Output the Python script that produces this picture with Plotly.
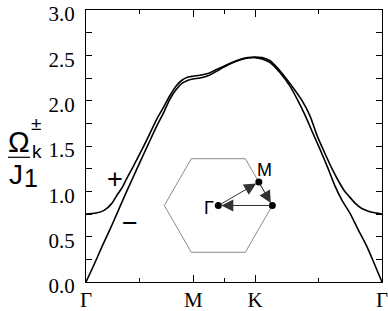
import plotly.graph_objects as go

# --- path coordinate (normalized) and tick labels ---
tick_pos = [0.0, 0.3625, 0.571, 1.0]
tick_text = ["Γ", "M", "K", "Γ"]
minor_pos = [0.181, 0.467, 0.7855]

# --- Omega_k^+ / J1 ---
t_plus = [0, 0.034, 0.061, 0.088, 0.105, 0.122, 0.135, 0.162, 0.189, 0.216, 0.243, 0.264,
          0.284, 0.304, 0.324, 0.345, 0.3615, 0.385, 0.412, 0.439, 0.466, 0.493, 0.520,
          0.547, 0.571, 0.595, 0.622, 0.655, 0.689, 0.730, 0.757, 0.780, 0.807, 0.831,
          0.851, 0.872, 0.885, 0.909, 0.932, 0.959, 0.980, 1.0]
omega_plus = [0.75, 0.76, 0.79, 0.87, 0.96, 1.04, 1.125, 1.29, 1.46, 1.64, 1.82, 1.94,
              2.06, 2.16, 2.225, 2.26, 2.27, 2.28, 2.30, 2.34, 2.38, 2.42, 2.455,
              2.475, 2.48, 2.475, 2.44, 2.33, 2.19, 2.0, 1.83, 1.62, 1.42, 1.25,
              1.125, 1.01, 0.96, 0.87, 0.81, 0.775, 0.76, 0.75]

# --- Omega_k^- / J1 ---
t_minus = [0, 0.027, 0.054, 0.081, 0.105, 0.128, 0.155, 0.182, 0.209, 0.236, 0.264, 0.284,
           0.304, 0.324, 0.345, 0.3615, 0.385, 0.412, 0.439, 0.466, 0.493, 0.520, 0.547,
           0.571, 0.595, 0.622, 0.655, 0.689, 0.716, 0.740, 0.764, 0.791, 0.818, 0.841,
           0.865, 0.892, 0.919, 0.949, 0.973, 1.0]
omega_minus = [0, 0.19, 0.39, 0.58, 0.757, 0.93, 1.125, 1.32, 1.51, 1.70, 1.88, 2.02,
               2.12, 2.19, 2.225, 2.24, 2.25, 2.275, 2.32, 2.37, 2.415, 2.45, 2.47,
               2.475, 2.46, 2.42, 2.31, 2.16, 2.0, 1.84, 1.66, 1.46, 1.25, 1.06,
               0.90, 0.757, 0.58, 0.39, 0.21, 0]

# --- inset Brillouin zone ---
hex_x = [1, 0.5, -0.5, -1, -0.5, 0.5, 1]
hex_y = [0, 0.866, 0.866, 0, -0.866, -0.866, 0]
pt_names = ["Γ", "M", "K"]
pt_x = [0.0, 0.75, 1.0]
pt_y = [0.0, 0.433, 0.0]

SERIF = "Liberation Serif"
SANS = "Liberation Sans"

fig = go.Figure()
fig.add_trace(go.Scatter(x=t_plus, y=omega_plus, mode="lines",
                         line=dict(color="black", width=1.6, shape="spline", smoothing=0.8),
                         showlegend=False, hoverinfo="skip"))
fig.add_trace(go.Scatter(x=t_minus, y=omega_minus, mode="lines",
                         line=dict(color="black", width=1.6, shape="spline", smoothing=0.8),
                         showlegend=False, hoverinfo="skip"))

# inset
fig.add_trace(go.Scatter(x=hex_x, y=hex_y, mode="lines", xaxis="x2", yaxis="y2",
                         line=dict(color="#8a8a8a", width=1), showlegend=False,
                         hoverinfo="skip"))
fig.add_trace(go.Scatter(x=pt_x, y=pt_y, mode="markers", xaxis="x2", yaxis="y2",
                         marker=dict(color="black", size=7), showlegend=False,
                         hoverinfo="skip"))


def label(x, y, text, size, ref=("paper", "paper"), family=SANS):
    return dict(x=x, y=y, xref=ref[0], yref=ref[1], text=text, showarrow=False,
                xanchor="center", yanchor="middle",
                font=dict(family=family, size=size, color="black"))


annotations = []
# arrows Γ->M, M->K, K->Γ
for (i, j) in [(0, 1), (1, 2), (2, 0)]:
    annotations.append(dict(x=pt_x[j], y=pt_y[j], ax=pt_x[i], ay=pt_y[i],
                            xref="x2", yref="y2", axref="x2", ayref="y2",
                            text="", showarrow=True, arrowhead=2, arrowsize=2.4,
                            arrowwidth=1, arrowcolor="#333333", standoff=3))
annotations += [
    label(0.846, 0.657, "M", 18, ("x2", "y2")),
    label(1.124, -0.056, "K", 18, ("x2", "y2")),
    label(-0.17, -0.05, "Γ", 18, ("x2", "y2")),
    # branch labels
    label(0.098, 1.14, "+", 27, ("x", "y")),
    label(0.149, 0.65, "−", 27, ("x", "y")),
    # y-axis title  Ω_k^± / J_1
    label(-0.2264, 0.5147, "Ω", 29),
    label(-0.1655, 0.4816, "k", 19),
    label(-0.169, 0.581, "±", 19),
    label(-0.2355, 0.397, "J", 28),
    label(-0.186, 0.382, "1", 25),
]

fig.update_layout(
    width=388, height=311,
    margin=dict(l=86, r=6, t=10, b=29),
    paper_bgcolor="white", plot_bgcolor="white",
    showlegend=False,
    annotations=annotations,
    shapes=[dict(type="line", xref="paper", yref="paper", x0=-0.2635, x1=-0.189,
                 y0=0.4585, y1=0.4585, line=dict(color="black", width=1.2))],
    xaxis=dict(range=[0, 1], tickvals=tick_pos, ticktext=tick_text,
               ticks="inside", ticklen=7, tickcolor="black", tickwidth=1,
               showline=True, linecolor="black", linewidth=1.2, mirror="ticks",
               showgrid=False, zeroline=False, automargin=False,
               ticklabeloverflow="allow", ticklabelstandoff=-1,
               tickfont=dict(family=SERIF, size=21, color="black"),
               minor=dict(tickvals=minor_pos, ticks="inside", ticklen=4,
                          tickcolor="black", tickwidth=1, showgrid=False)),
    yaxis=dict(range=[0, 3], dtick=0.5, tick0=0, tickformat=".1f",
               ticks="inside", ticklen=6, tickcolor="black", tickwidth=1,
               showline=True, linecolor="black", linewidth=1.2, mirror="ticks",
               showgrid=False, zeroline=False, ticklabelstandoff=6, automargin=False,
               ticklabeloverflow="allow", ticklabelshift=4,
               tickfont=dict(family=SERIF, size=21, color="black"),
               minor=dict(dtick=0.25, ticks="inside", ticklen=6,
                          tickcolor="black", tickwidth=1, showgrid=False)),
    xaxis2=dict(domain=[0.2463, 0.6477], range=[-1.1, 1.1], anchor="y2",
                visible=False, showgrid=False, zeroline=False),
    yaxis2=dict(domain=[0.0926, 0.4699], range=[-0.95, 0.95], anchor="x2",
                visible=False, showgrid=False, zeroline=False),
)

fig.write_html("out.html", config={"displayModeBar": False},
               post_script="document.body.style.margin='0';document.body.style.overflow='hidden';")
